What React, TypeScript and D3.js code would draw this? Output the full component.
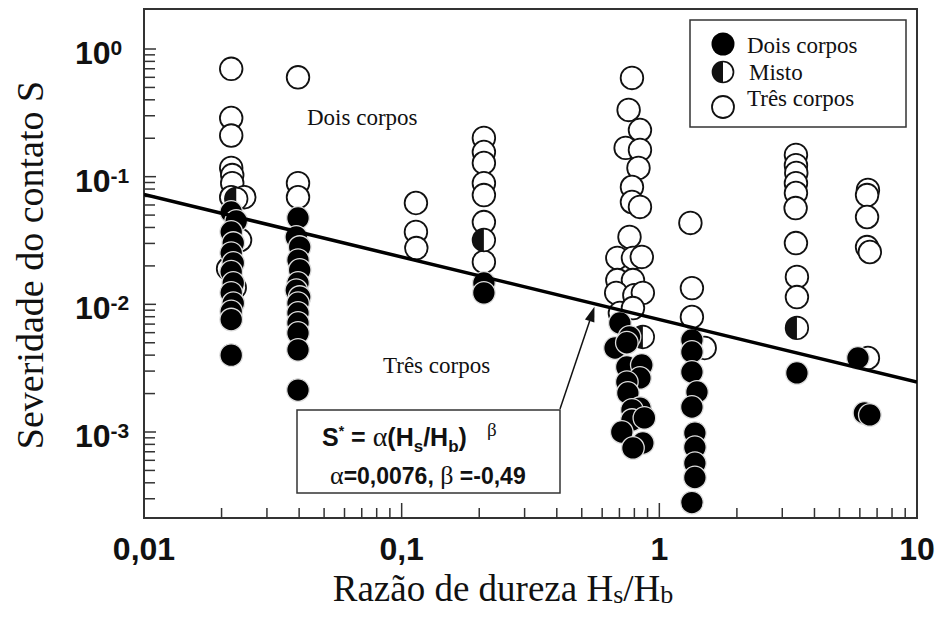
import React from 'react';
import * as d3 from 'd3';

// ---- Data (H_s/H_b , S) ----
const tresCorpos: [number, number][] = [
  [0.0218, 0.70], [0.0218, 0.288], [0.0218, 0.21], [0.0218, 0.117], [0.0220, 0.103], [0.0220, 0.089],
  [0.0218, 0.069], [0.0245, 0.069], [0.0236, 0.0319], [0.0212, 0.019], [0.0225, 0.0135],
  [0.0396, 0.60], [0.0396, 0.089], [0.0396, 0.069],
  [0.1136, 0.0622], [0.1136, 0.0369], [0.114, 0.0276],
  [0.2085, 0.201], [0.2085, 0.156], [0.2085, 0.128], [0.2085, 0.089], [0.2085, 0.0718], [0.2085, 0.0441], [0.2085, 0.0215],
  [0.783, 0.593], [0.76, 0.333], [0.841, 0.232], [0.74, 0.168], [0.841, 0.162], [0.83, 0.117], [0.783, 0.083],
  [0.783, 0.0633], [0.841, 0.0579], [0.766, 0.0337], [0.687, 0.0231], [0.79, 0.0231], [0.855, 0.0235],
  [0.687, 0.0155], [0.79, 0.0155], [0.68, 0.0123], [0.80, 0.0118], [0.863, 0.0123], [0.703, 0.00855], [0.79, 0.00935],
  [1.32, 0.0434], [1.338, 0.0134], [1.338, 0.00796],
  [1.50, 0.00455],
  [3.39, 0.148], [3.39, 0.123], [3.40, 0.107], [3.39, 0.089], [3.39, 0.0745], [3.38, 0.0568], [3.39, 0.0302], [3.42, 0.0164], [3.42, 0.0114],
  [6.45, 0.0787], [6.40, 0.0718], [6.40, 0.0483], [6.40, 0.0281], [6.56, 0.0257], [6.45, 0.0038],
];

const misto: [number, number][] = [
  [0.0228, 0.067], [0.2085, 0.0319], [0.863, 0.00555], [3.42, 0.00653],
];

const doisCorpos: [number, number][] = [
  [0.0218, 0.0529], [0.0228, 0.045], [0.0218, 0.0369], [0.0222, 0.0302], [0.0218, 0.0252], [0.0222, 0.0211],
  [0.0218, 0.018], [0.0222, 0.0147], [0.0218, 0.0123], [0.0222, 0.0102], [0.0218, 0.0088], [0.0218, 0.0076], [0.0218, 0.0040],
  [0.0396, 0.0475], [0.0390, 0.0337], [0.0402, 0.0281], [0.0396, 0.0222], [0.0402, 0.0186], [0.0396, 0.0147],
  [0.0390, 0.0129], [0.0402, 0.0114], [0.0396, 0.0102], [0.0396, 0.00855], [0.0396, 0.00714], [0.0396, 0.00597],
  [0.0396, 0.0044], [0.0396, 0.00213],
  [0.2085, 0.0147], [0.2085, 0.0123],
  [0.703, 0.00714], [0.673, 0.00455], [0.766, 0.00555], [0.748, 0.0050], [0.748, 0.00323], [0.855, 0.00335],
  [0.841, 0.00265], [0.748, 0.00246], [0.755, 0.00202], [0.841, 0.00154], [0.783, 0.00149], [0.783, 0.00124],
  [0.875, 0.00129], [0.715, 0.00100], [0.863, 0.00082], [0.79, 0.00075],
  [1.338, 0.00526], [1.338, 0.00424], [1.338, 0.00295], [1.40, 0.00206], [1.338, 0.00157], [1.374, 0.00098],
  [1.374, 0.00076], [1.374, 0.00057], [1.374, 0.00044], [1.338, 0.00028],
  [3.42, 0.0029],
  [5.90, 0.0038], [6.25, 0.00141], [6.56, 0.00136],
];

const ALPHA = 0.0076;
const BETA = -0.49;

const xMajorTicks = [0.01, 0.1, 1, 10];
const xTickLabels = ['0,01', '0,1', '1', '10'];
const yMajorTicks = [1, 0.1, 0.01, 0.001];
const yTickExponents = ['0', '-1', '-2', '-3'];

const legendItems = ['Dois corpos', 'Misto', 'Três corpos'];

const SERIF = '"Liberation Serif", "Times New Roman", serif';
const SANS = '"Liberation Sans", Arial, sans-serif';

const R = 11.3;

function Mixed({ cx, cy, r }: { cx: number; cy: number; r: number }) {
  return (
    <g>
      <circle cx={cx} cy={cy} r={r} fill="#fff" stroke="#111" strokeWidth={1.7} />
      <path d={`M${cx},${cy - r} A${r},${r} 0 0 0 ${cx},${cy + r} Z`} fill="#111" />
    </g>
  );
}

export default function App() {
  const L = 144, Rr = 917, T = 9, B = 518;
  const x = d3.scaleLog().domain([0.01, 10]).range([L, Rr]);
  const y = d3.scaleLog().domain([1e-3, 1]).range([432, 49]);
  const fit = (h: number) => ALPHA * Math.pow(h, BETA);

  const xMinor: number[] = [];
  for (let e = -2; e <= 0; e++) for (let m = 2; m <= 9; m++) xMinor.push(m * Math.pow(10, e));
  const yMinor: number[] = [];
  for (let e = -4; e <= 0; e++) for (let m = 2; m <= 9; m++) {
    const v = m * Math.pow(10, e);
    const py = y(v);
    if (py > T + 4 && py < B - 4) yMinor.push(v);
  }

  const line = d3.line<[number, number]>().x(d => x(d[0])).y(d => y(d[1]));
  const fitPts: [number, number][] = [0.01, 10].map(h => [h, fit(h)]);

  // arrow
  const tipX = x(0.56), tipY = y(fit(0.56)) + 3;
  const tailX = 560, tailY = 409;
  const ang = Math.atan2(tipY - tailY, tipX - tailX);
  const al = 15, aw = 5;
  const bx = tipX - al * Math.cos(ang), by = tipY - al * Math.sin(ang);
  const head = `${tipX},${tipY} ${bx + aw * Math.sin(ang)},${by - aw * Math.cos(ang)} ${bx - aw * Math.sin(ang)},${by + aw * Math.cos(ang)}`;

  return (
    <svg width={946} height={620} style={{ position: 'absolute', left: 0, top: 0, background: '#fff' }}>
      <defs>
        <clipPath id="plotclip">
          <rect x={L} y={T} width={Rr - L} height={B - T} />
        </clipPath>
      </defs>
      <rect x={0} y={0} width={946} height={620} fill="#fff" />

      {/* ticks */}
      <g stroke="#333" strokeWidth={1.5}>
        {xMinor.map((v, i) => <line key={'xm' + i} x1={x(v)} x2={x(v)} y1={B} y2={B - 10} />)}
        {xMajorTicks.slice(1, 3).map((v, i) => <line key={'xM' + i} x1={x(v)} x2={x(v)} y1={B} y2={B - 15} />)}
        {yMinor.map((v, i) => <line key={'ym' + i} x1={L} x2={L + 11} y1={y(v)} y2={y(v)} />)}
        {yMajorTicks.map((v, i) => <line key={'yM' + i} x1={L} x2={L + 12} y1={y(v)} y2={y(v)} />)}
      </g>

      {/* frame */}
      <rect x={L} y={T} width={Rr - L} height={B - T} fill="none" stroke="#333" strokeWidth={2} />

      {/* tick labels */}
      {xMajorTicks.map((v, i) => (
        <text key={'xl' + i} x={x(v)} y={560} textAnchor="middle" fontFamily={SANS} fontWeight="bold" fontSize={32} fill="#111">
          {xTickLabels[i]}
        </text>
      ))}
      {yMajorTicks.map((v, i) => (
        <text key={'yl' + i} x={75} y={y(v) + 15} fontFamily={SANS} fontWeight="bold" fontSize={32} fill="#111">
          10<tspan fontSize={21} dy={-9}>{yTickExponents[i]}</tspan>
        </text>
      ))}

      {/* axis titles */}
      <text x={503} y={601} textAnchor="middle" fontFamily={SERIF} fontSize={37} fill="#111">
        Razão de dureza H<tspan fontSize={26} dy={2}>s</tspan><tspan dy={-2}>/H</tspan><tspan fontSize={26} dy={2}>b</tspan>
      </text>
      <text transform="translate(43,265) rotate(-90)" textAnchor="middle" fontFamily={SERIF} fontSize={38} fill="#111">
        Severidade do contato S
      </text>

      {/* points */}
      <g clipPath="url(#plotclip)">
        {tresCorpos.map((d, i) => (
          <circle key={'t' + i} cx={x(d[0])} cy={y(d[1])} r={R} fill="#fff" stroke="#111" strokeWidth={1.8} />
        ))}
        {misto.map((d, i) => <Mixed key={'m' + i} cx={x(d[0])} cy={y(d[1])} r={R} />)}
        {doisCorpos.map((d, i) => (
          <circle key={'d' + i} cx={x(d[0])} cy={y(d[1])} r={R} fill="#000" stroke="#ddd" strokeWidth={1.3} />
        ))}
        <path d={line(fitPts) || ''} fill="none" stroke="#000" strokeWidth={3.5} />
      </g>

      {/* region labels */}
      <text x={307} y={125} fontFamily={SERIF} fontSize={23} fill="#111">Dois corpos</text>
      <text x={383} y={373} fontFamily={SERIF} fontSize={23} fill="#111">Três corpos</text>

      {/* arrow */}
      <line x1={tailX} y1={tailY} x2={bx} y2={by} stroke="#111" strokeWidth={1.5} />
      <polygon points={head} fill="#111" />

      {/* formula box */}
      <rect x={297} y={410} width={263} height={83} fill="#fff" stroke="#333" strokeWidth={1.5} />
      <text x={322} y={446} fontFamily={SANS} fontWeight="bold" fontSize={25} fill="#111">
        S<tspan fontSize={14} dy={-10}>*</tspan>
        <tspan dy={10}> = </tspan>
        <tspan fontFamily={SERIF} fontWeight="normal" fontSize={28}>α</tspan>
        <tspan>(H</tspan>
        <tspan fontSize={17} dy={6}>s</tspan>
        <tspan dy={-6}>/H</tspan>
        <tspan fontSize={17} dy={6}>b</tspan>
        <tspan dy={-6}>)</tspan>
        <tspan fontFamily={SERIF} fontWeight="normal" fontSize={19} dx={20} dy={-10}>β</tspan>
      </text>
      <text x={330} y={484} fontFamily={SANS} fontWeight="bold" fontSize={23} fill="#111">
        <tspan fontFamily={SERIF} fontWeight="normal" fontSize={26}>α</tspan>
        =0,0076,{' '}
        <tspan fontFamily={SERIF} fontWeight="normal" fontSize={26}>β</tspan>
        {' '}=-0,49
      </text>

      {/* legend */}
      <rect x={690} y={20} width={216} height={107} fill="#fff" stroke="#333" strokeWidth={1.5} />
      <circle cx={723} cy={44} r={11.5} fill="#000" />
      <Mixed cx={723} cy={72} r={10.5} />
      <circle cx={723} cy={107} r={11} fill="#fff" stroke="#111" strokeWidth={1.8} />
      {legendItems.map((t, i) => (
        <text key={'lg' + i} x={747 + (i === 1 ? 2 : 0)} y={[53, 80, 106][i]} fontFamily={SERIF} fontSize={23} fill="#111">{t}</text>
      ))}
    </svg>
  );
}
